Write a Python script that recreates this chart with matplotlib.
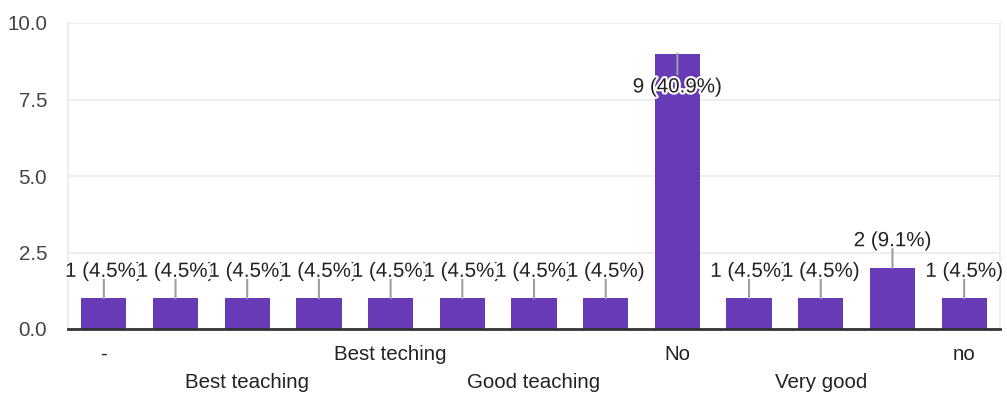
import matplotlib
matplotlib.use("Agg")
import matplotlib.pyplot as plt
import matplotlib.patheffects as pe

categories = ["-", "", "Best teaching", "", "Best teching", "", "Good teaching", "",
              "No", "", "Very good", "", "no"]
counts = [1, 1, 1, 1, 1, 1, 1, 1, 9, 1, 1, 2, 1]
total = 22
yticks = [0.0, 2.5, 5.0, 7.5, 10.0]

plt.rcParams['font.family'] = ['Liberation Sans', 'DejaVu Sans']
FS = 14.8
fig = plt.figure(figsize=(10.07, 3.96), dpi=100)
ax = fig.add_axes([68/1007, 1-329/396, (1000-68)/1007, (329-23)/396])

x = list(range(len(counts)))
ax.bar(x, counts, width=0.63, color="#673ab7", zorder=3)
ax.set_xlim(-0.5, len(counts)-0.5)
ax.set_ylim(0, 10)
ax.set_yticks(yticks)
ax.set_yticklabels([f"{v:.1f}" for v in yticks], fontsize=FS, color="#444444")
ax.yaxis.grid(True, color="#ebebeb", linewidth=1.2, zorder=0)
ax.tick_params(axis="y", length=0, pad=15)
ax.tick_params(axis="x", length=0)
ax.set_xticks([])
ax.spines["top"].set_visible(False)
ax.spines["left"].set_color("#ebebeb")
ax.spines["right"].set_color("#ebebeb")
ax.spines["left"].set_linewidth(1.2)
ax.spines["right"].set_linewidth(1.2)
ax.spines["bottom"].set_color("#333333")
ax.spines["bottom"].set_linewidth(2)
ax.spines["bottom"].set_zorder(5)

for i, c in enumerate(counts):
    label = f"{c} ({c/total*100:.1f}%)"
    if c >= 8:
        line_off, text_off = -15, -24
    else:
        line_off, text_off = 14, 19.5
    ax.annotate("", xy=(i, c), xytext=(0, line_off), textcoords="offset points",
                arrowprops=dict(arrowstyle="-", color="#9e9e9e", lw=1.5, shrinkA=0, shrinkB=0),
                zorder=4)
    ax.annotate(label, xy=(i, c), xytext=(0, text_off), textcoords="offset points",
                ha="center", va="center", fontsize=FS, color="#222222", zorder=6,
                path_effects=[pe.withStroke(linewidth=3, foreground="white")])

for i, name in enumerate(categories):
    if not name:
        continue
    row = (i // 2) % 2
    ypix = 354 if row == 0 else 382
    fig.text((68 + (i + 0.5) * (1000-68)/len(counts))/1007, 1 - ypix/396, name,
             ha="center", va="center", fontsize=FS, color="#222222")

fig.savefig("out.png", dpi=100)
